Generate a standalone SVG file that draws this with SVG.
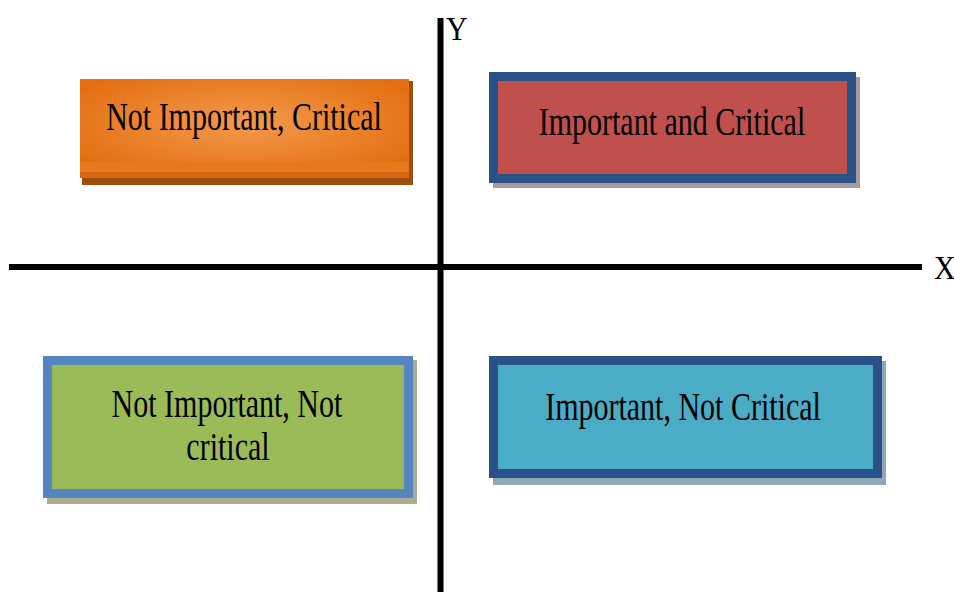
<svg xmlns="http://www.w3.org/2000/svg" width="954" height="592" viewBox="0 0 954 592">
<defs>
<radialGradient id="og" cx="0.5" cy="0.45" r="0.6">
<stop offset="0" stop-color="#f39a4c"/>
<stop offset="1" stop-color="#e46f12"/>
</radialGradient>
</defs>
<style>
.lbl{font-family:"Liberation Serif","Times New Roman",serif;font-size:30px;fill:#000;text-anchor:middle}
.ax{font-family:"Liberation Serif","Times New Roman",serif;font-size:30px;fill:#000}
.axis{stroke:#000;stroke-width:6}
</style>
<rect width="954" height="592" fill="#fff"/>
<g id="axes">
<line class="axis" x1="9" y1="267" x2="922" y2="267"/>
<line class="axis" x1="440.5" y1="18" x2="440.5" y2="592"/>
<text class="ax" x="446" y="40" transform="translate(446,40) scale(1,1.15) translate(-446,-40)">Y</text>
<text class="ax" x="934" y="279" transform="translate(934,279) scale(1,1.15) translate(-934,-279)">X</text>
</g>
<g id="node-not-important-critical">
<rect x="82" y="81" width="331" height="104" fill="#9c4f0c"/>
<rect x="80" y="79" width="329" height="99" fill="url(#og)"/>
<rect x="80" y="162" width="329" height="10" fill="#e7781c"/>
<rect x="80" y="172" width="329" height="6" fill="#d96610"/>
<text class="lbl" x="244" y="130" transform="translate(244,130) scale(1,1.3) translate(-244,-130)">Not Important, Critical</text>
</g>
<g id="node-important-critical">
<rect x="493" y="77" width="367" height="111" fill="#a89a9a"/>
<rect x="489" y="72" width="367" height="111" fill="#2a5288"/>
<rect x="498" y="81" width="349" height="93" fill="#c0504d"/>
<text class="lbl" x="672" y="135" transform="translate(672,135) scale(1,1.3) translate(-672,-135)">Important and Critical</text>
</g>
<g id="node-not-important-not-critical">
<rect x="47" y="360" width="370" height="144" fill="#a9ae92"/>
<rect x="43" y="356" width="370" height="142" fill="#5585c1"/>
<rect x="52" y="365" width="352" height="124" fill="#9bbb59"/>
<text class="lbl" x="227" y="417" transform="translate(227,417) scale(1,1.3) translate(-227,-417)">Not Important, Not</text>
<text class="lbl" x="228" y="460" transform="translate(228,460) scale(1,1.3) translate(-228,-460)">critical</text>
</g>
<g id="node-important-not-critical">
<rect x="493" y="361" width="393" height="124" fill="#8ea8b4"/>
<rect x="489" y="356" width="393" height="122" fill="#2a5288"/>
<rect x="498" y="365" width="375" height="104" fill="#4bacc6"/>
<text class="lbl" x="683" y="420" transform="translate(683,420) scale(1,1.3) translate(-683,-420)">Important, Not Critical</text>
</g>
<g id="connectors"/>
</svg>
